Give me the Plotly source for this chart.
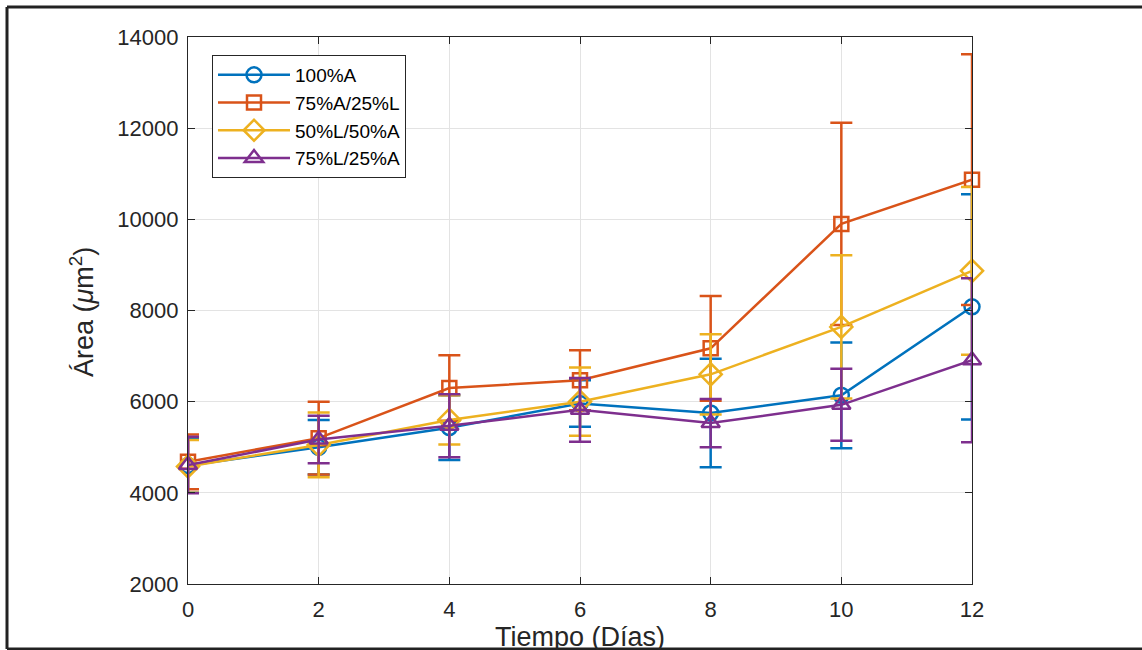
import plotly.graph_objects as go

dias = [0, 2, 4, 6, 8, 10, 12]

series_names = ["100%A", "75%A/25%L", "50%L/50%A", "75%L/25%A"]

area_100A = [4600, 5000, 5430, 5960, 5750, 6140, 8080]
err_100A = [600, 600, 710, 510, 1190, 1160, 2470]

area_75A25L = [4680, 5200, 6300, 6470, 7170, 9900, 10870]
err_75A25L = [600, 800, 720, 660, 1150, 2220, 2750]

area_50L50A = [4580, 5050, 5600, 6000, 6600, 7640, 8870]
err_50L50A = [580, 710, 540, 750, 880, 1570, 1840]

area_75L25A = [4610, 5170, 5470, 5820, 5530, 5930, 6910]
err_75L25A = [620, 520, 690, 700, 530, 790, 1800]

y_ticks = [2000, 4000, 6000, 8000, 10000, 12000, 14000]
x_ticks = [0, 2, 4, 6, 8, 10, 12]

colors = ["#0072BD", "#D95319", "#EDB120", "#7E2F8E"]
symbols = ["circle-open", "square-open", "diamond-open", "triangle-up-open"]
sizes = [15, 14, 17, 16]

values = [area_100A, area_75A25L, area_50L50A, area_75L25A]
errors = [err_100A, err_75A25L, err_50L50A, err_75L25A]

FONT = "Liberation Sans, Arial, sans-serif"

fig = go.Figure()
for name, v, e, c, s, sz in zip(series_names, values, errors, colors, symbols, sizes):
    fig.add_trace(go.Scatter(
        x=dias, y=v, name=name, mode="lines+markers", cliponaxis=False,
        line=dict(color=c, width=2.5),
        marker=dict(symbol=s, size=sz, color=c, line=dict(color=c, width=2.5)),
        error_y=dict(type="data", array=e, visible=True, color=c, thickness=2.5, width=11),
    ))

W, H = 1142, 650
L, R, T, B = 188, 972, 37, 584
pw, ph = R - L, B - T

def px(x):
    return (x - L) / pw

def py(y):
    return (B - y) / ph

axis_common = dict(
    showline=True, linecolor="#262626", linewidth=1.2, mirror="ticks",
    ticks="inside", ticklen=7, tickcolor="#262626", tickwidth=1.2,
    showgrid=True, gridcolor="#e3e3e3", gridwidth=1, zeroline=False,
    tickfont=dict(family=FONT, size=22, color="#262626"),
)

fig.update_layout(
    width=W, height=H,
    margin=dict(l=L, r=W - R, t=T, b=H - B),
    paper_bgcolor="white", plot_bgcolor="white",
    xaxis=dict(range=[0, 12], tickvals=x_ticks, ticktext=[str(t) for t in x_ticks],
               ticklabelstandoff=5, **axis_common),
    yaxis=dict(range=[2000, 14000], tickvals=y_ticks, ticktext=[str(t) for t in y_ticks],
               ticklabelstandoff=4, **axis_common),
    legend=dict(
        x=px(212), y=py(55), xanchor="left", yanchor="top",
        bgcolor="white", bordercolor="#262626", borderwidth=1,
        font=dict(family=FONT, size=19, color="#000000"),
        itemwidth=72, tracegroupgap=0,
    ),
    showlegend=True,
    annotations=[
        dict(text="Tiempo (Días)", xref="paper", yref="paper", x=0.5, y=py(637),
             xanchor="center", yanchor="middle", showarrow=False,
             font=dict(family=FONT, size=27, color="#262626")),
        dict(text="Área (<i>μ</i>m<sup>2</sup>)", xref="paper", yref="paper", x=px(82), y=py(312),
             xanchor="center", yanchor="middle", showarrow=False, textangle=-90,
             font=dict(family=FONT, size=27, color="#262626")),
    ],
    shapes=[
        dict(type="line", xref="paper", yref="paper", x0=px(7), x1=px(1160), y0=py(7), y1=py(7),
             line=dict(color="#222222", width=3)),
        dict(type="line", xref="paper", yref="paper", x0=px(7), x1=px(7), y0=py(7), y1=py(649),
             line=dict(color="#222222", width=3)),
        dict(type="line", xref="paper", yref="paper", x0=px(7), x1=px(1160), y0=py(649), y1=py(649),
             line=dict(color="#222222", width=3)),
    ],
)

fig.write_html("out.html")
